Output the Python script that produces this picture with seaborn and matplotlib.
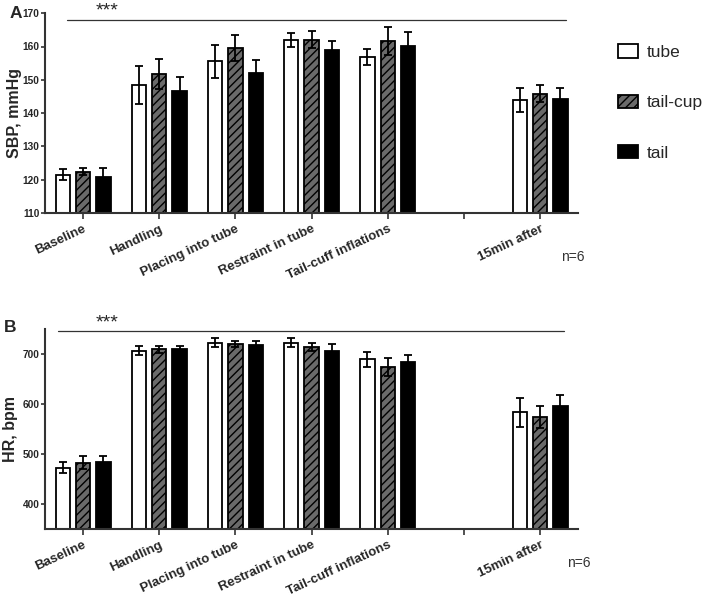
import pandas as pd
import seaborn as sns
import matplotlib.pyplot as plt
from matplotlib.patches import Patch

# categories (the blank one is the empty slot before "15min after")
categories = ["Baseline", "Handling", "Placing into tube", "Restraint in tube",
              "Tail-cuff inflations", " ", "15min after"]
measured = ["Baseline", "Handling", "Placing into tube", "Restraint in tube",
            "Tail-cuff inflations", "15min after"]
groups = ["tube", "tail-cup", "tail"]

# panel A: SBP, mmHg (mean, error)
sbp_tube = [121.5, 148.4, 155.5, 162.0, 156.8, 143.9]
sbp_tailcup = [122.4, 151.6, 159.6, 162.0, 161.6, 145.8]
sbp_tail = [120.8, 146.6, 152.0, 159.0, 160.1, 144.2]
sbp_tube_err = [1.6, 5.8, 5.0, 2.1, 2.5, 3.5]
sbp_tailcup_err = [1.1, 4.5, 4.0, 2.6, 4.2, 2.5]
sbp_tail_err = [2.7, 4.2, 4.0, 2.8, 4.3, 3.2]

# panel B: HR, bpm (mean, error)
hr_tube = [473, 707, 723, 723, 690, 584]
hr_tailcup = [483, 710, 721, 715, 674, 575]
hr_tail = [485, 710, 719, 707, 684, 597]
hr_tube_err = [11, 9, 9, 9, 15, 29]
hr_tailcup_err = [13, 7, 6, 8, 18, 22]
hr_tail_err = [12, 7, 7, 13, 15, 22]

colors = {"tube": "white", "tail-cup": "#6a6a6a", "tail": "black"}

sns.set_style("ticks")
plt.rcParams["font.family"] = ["Liberation Sans", "DejaVu Sans"]
plt.rcParams["hatch.linewidth"] = 1.0
plt.rcParams["hatch.color"] = "black"


def draw_panel(ax, means, errs, ylim, yticks, ylabel, label_x, line, star_y, n_pos):
    rows = []
    for g, m, e in zip(groups, means, errs):
        for c, v, ev in zip(measured, m, e):
            rows.append({"event": c, "group": g, "value": v, "err": ev})
    df = pd.DataFrame(rows)
    sns.barplot(data=df, x="event", y="value", hue="group", order=categories,
                hue_order=groups, palette=colors, edgecolor="black", linewidth=1.3,
                width=0.8, gap=0.3, errorbar=None, legend=False, ax=ax)
    err_lookup = {(r.group, r.event): r.err for r in df.itertuples()}
    for cont, g in zip(ax.containers, groups):
        xs, hs, es = [], [], []
        for bar in cont:
            xc = bar.get_x() + bar.get_width() / 2
            cat = categories[int(round(xc))]
            if (g, cat) not in err_lookup:
                continue
            if g == "tail-cup":
                bar.set_hatch("////")
            xs.append(xc)
            hs.append(bar.get_height())
            es.append(err_lookup[(g, cat)])
        ax.errorbar(xs, hs, yerr=es, fmt="none", ecolor="black", elinewidth=1.3,
                    capsize=3, capthick=1.3, zorder=5)

    ax.set_xlim(-0.5, len(categories) - 0.5)
    ax.set_ylim(*ylim)
    ax.set_yticks(yticks)
    ax.set_yticklabels([str(t) for t in yticks], fontsize=7.3, fontweight="bold")
    ax.set_xticks(range(len(categories)))
    ax.set_xticklabels(categories, rotation=25, ha="right", va="top",
                       rotation_mode="anchor", fontsize=9.5, fontweight="bold")
    ax.set_xlabel("")
    ax.set_ylabel(ylabel, fontsize=11.5, fontweight="bold")
    ax.yaxis.set_label_coords(label_x, 0.5)
    sns.despine(ax=ax)
    for s in ["left", "bottom"]:
        ax.spines[s].set_linewidth(1.5)
        ax.spines[s].set_color("#333333")
    ax.tick_params(axis="y", length=3, width=1.2, color="#333333", pad=0.8)
    ax.tick_params(axis="x", length=4, width=1.2, color="#333333", pad=3)

    # significance line and stars
    ax.plot(line[:2], [line[2], line[2]], color="#333333", lw=0.9, clip_on=False)
    ax.text(0.32, star_y, "***", ha="center", va="center", fontsize=14)
    ax.text(n_pos[0], n_pos[1], "n=6", transform=ax.get_xaxis_transform(),
            fontsize=10, ha="left", va="center", color="#333333")


fig = plt.figure(figsize=(7.09, 6.0), dpi=100)
ax_a = fig.add_axes([0.0635, 0.645, 0.752, 0.333])
ax_b = fig.add_axes([0.0635, 0.118, 0.752, 0.333])

draw_panel(ax_a, [sbp_tube, sbp_tailcup, sbp_tail],
           [sbp_tube_err, sbp_tailcup_err, sbp_tail_err],
           (110, 170), [110, 120, 130, 140, 150, 160, 170], "SBP, mmHg", -0.044,
           (-0.21, 6.34, 167.9), 170.6, (6.28, -0.22))
draw_panel(ax_b, [hr_tube, hr_tailcup, hr_tail],
           [hr_tube_err, hr_tailcup_err, hr_tail_err],
           (350, 750), [400, 500, 600, 700], "HR, bpm", -0.05,
           (-0.33, 6.32, 746), 763, (6.36, -0.17))

fig.text(0.014, 1 - 13 / 600, "A", fontsize=12.5, fontweight="bold", va="center")
fig.text(0.006, 1 - 327 / 600, "B", fontsize=12.5, fontweight="bold", va="center")

handles = [Patch(facecolor=colors[g], edgecolor="black", linewidth=1.3,
                 hatch="////" if g == "tail-cup" else None) for g in groups]
fig.legend(handles, groups, loc="upper left", bbox_to_anchor=(0.849, 0.952),
           frameon=False, fontsize=12.5, labelspacing=2.0, handlelength=1.15,
           handleheight=0.8, handletextpad=0.55)

fig.savefig("out.png", dpi=100)
